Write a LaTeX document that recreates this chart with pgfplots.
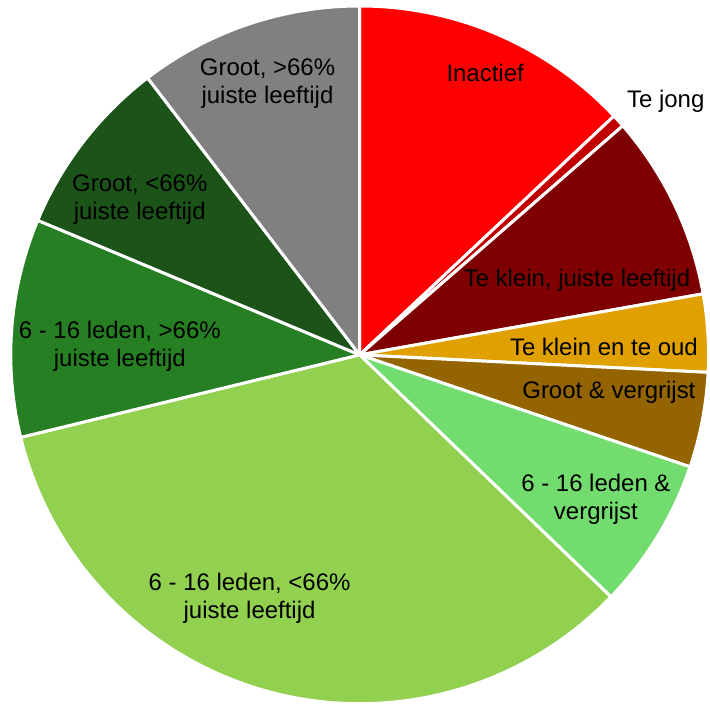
\documentclass[border=0pt]{standalone}
\usepackage{pgfplots}
\pgfplotsset{compat=1.18}
\usepackage{fontspec}
\setmainfont{Liberation Sans}
\definecolor{c1}{HTML}{FF0000}
\definecolor{c2}{HTML}{C00000}
\definecolor{c3}{HTML}{7F0000}
\definecolor{c4}{HTML}{E0A000}
\definecolor{c5}{HTML}{936400}
\definecolor{c6}{HTML}{72DC6E}
\definecolor{c7}{HTML}{92D050}
\definecolor{c8}{HTML}{267F22}
\definecolor{c9}{HTML}{1B5319}
\definecolor{c10}{HTML}{808080}
\begin{document}
\begin{tikzpicture}
\begin{axis}[hide axis, scale only axis, width=710bp, height=703bp,
  xmin=0, xmax=710, ymin=0, ymax=703, clip=false]
\addplot[draw=none] coordinates {(0,0) (710,703)};
% shares in percent, clockwise from 12 o'clock
\def\a{90}
\def\i{0}
\pgfplotsforeachungrouped \s in {13.0,0.6,8.6,3.6,4.4,7.0,34.0,10.1,8.3,10.4}{
  \pgfmathtruncatemacro\i{\i+1}
  \pgfmathsetmacro\b{\a-3.6*\s}
  \edef\temp{\noexpand\addplot[fill=c\i, draw=white, line width=3bp, line join=round,
     domain=\a:\b, samples=90, variable=\noexpand\t]
     ({360.3+349.5*cos(\noexpand\t)},{347.5+349.5*sin(\noexpand\t)}) -- (axis cs:360.3,347.5) -- cycle;}
  \temp
  \global\let\a\b
}
\tikzset{lbl/.style={font=\fontsize{24bp}{28bp}\selectfont, align=center, inner sep=0pt, text=black}}
\node[lbl] at (axis cs:486,630) {Inactief};
\node[lbl] at (axis cs:667,602) {Te jong};
\node[lbl] at (axis cs:578,422) {Te klein, juiste leeftijd};
\node[lbl] at (axis cs:605,355) {Te klein en te oud};
\node[lbl] at (axis cs:610,310) {Groot \& vergrijst};
\node[lbl] at (axis cs:597,203) {6 - 16 leden \&\\vergrijst};
\node[lbl] at (axis cs:250,104) {6 - 16 leden, <66\%\\juiste leeftijd};
\node[lbl] at (axis cs:120,356) {6 - 16 leden, >66\%\\juiste leeftijd};
\node[lbl] at (axis cs:140,503) {Groot, <66\%\\juiste leeftijd};
\node[lbl] at (axis cs:268,619) {Groot, >66\%\\juiste leeftijd};
\end{axis}
\end{tikzpicture}
\end{document}
